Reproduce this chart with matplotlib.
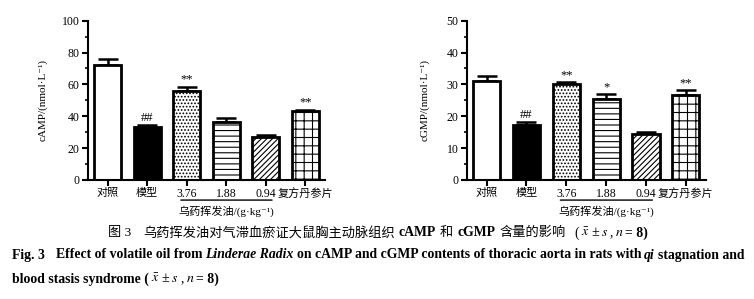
import matplotlib
matplotlib.use('Agg')
import matplotlib.pyplot as plt
from matplotlib.ticker import MultipleLocator

plt.rcParams['font.family'] = ['Liberation Serif', 'Noto Sans CJK SC', 'DejaVu Serif']
plt.rcParams['mathtext.fontset'] = 'stix'
plt.rcParams['hatch.linewidth'] = 0.8

# data
groups = ['对照', '模型', '3.76', '1.88', '0.94', '复方丹参片']
camp_mean = [72.0, 33.0, 56.0, 36.2, 26.8, 43.0]
camp_err = [4.2, 1.8, 2.6, 2.4, 1.2, 1.2]
camp_marks = ['', '##', '**', '', '', '**']
cgmp_mean = [31.0, 17.3, 30.0, 25.3, 14.5, 26.8]
cgmp_err = [1.7, 1.0, 0.8, 1.7, 0.7, 1.5]
cgmp_marks = ['', '##', '**', '*', '', '**']

colors = ['white', 'black', 'white', 'white', 'white', 'white']
hatches = [None, None, '.....', '---', '//////', '++']

fig = plt.figure(figsize=(7.54, 2.99), dpi=100)
W, H = 754, 299


def draw_panel(rect, means, errs, marks, ylabel, ymax, major, minor, label_x):
    ax = fig.add_axes(rect)
    x = range(len(groups))
    ax.bar(x, means, width=0.68, color=colors, edgecolor='black', linewidth=2,
           hatch=hatches, zorder=2)
    ax.errorbar(x, means, yerr=[[0] * len(errs), errs], fmt='none', ecolor='black',
                elinewidth=1.8, capsize=7, capthick=1.8, zorder=1)
    for i, m in enumerate(marks):
        if m:
            ax.text(i, means[i] + errs[i] + ymax * 0.005, m, ha='center', va='bottom',
                    fontsize=9)
    ax.set_xlim(-0.5, 5.5)
    ax.set_ylim(0, ymax)
    ax.yaxis.set_major_locator(MultipleLocator(major))
    ax.yaxis.set_minor_locator(MultipleLocator(minor))
    ax.spines['top'].set_visible(False)
    ax.spines['right'].set_visible(False)
    ax.spines['left'].set_linewidth(1.5)
    ax.spines['bottom'].set_linewidth(1.5)
    ax.tick_params(axis='both', which='major', width=1.5, length=4, labelsize=8.5, pad=2)
    ax.tick_params(axis='y', which='minor', width=1.2, length=2.5)
    ax.set_xticks(list(x))
    ax.set_xticklabels(groups)
    for lab in ax.get_xticklabels():
        if not lab.get_text()[0].isdigit():
            lab.set_fontsize(8)
    ax.set_ylabel(ylabel, fontsize=8)
    ax.yaxis.set_label_coords(label_x, 0.5)
    # underline below the dose labels
    ax.annotate('', xy=(4.23, -0.126), xytext=(1.78, -0.126),
                xycoords=ax.get_xaxis_transform(),
                arrowprops=dict(arrowstyle='-', color='black', lw=1))
    ax.text(3.0, -0.195, '乌药挥发油/(g·kg⁻¹)', ha='center', va='center',
            fontsize=8, transform=ax.get_xaxis_transform())
    return ax


draw_panel([0.1167, 0.398, 0.3143, 0.533], camp_mean, camp_err, camp_marks,
           'cAMP/(nmol·L⁻¹)', 100, 20, 10, -0.17)
draw_panel([0.619, 0.398, 0.317, 0.533], cgmp_mean, cgmp_err, cgmp_marks,
           'cGMP/(nmol·L⁻¹)', 50, 10, 5, -0.155)


def place_line(segments, x, y, centered=False):
    # segments: (text, props, gap after in pixels)
    renderer = fig.canvas.get_renderer()
    items = []
    total = 0
    for txt, props, gap in segments:
        t = fig.text(0, y / H, txt, va='center', ha='left', transform=fig.transFigure, **props)
        w = t.get_window_extent(renderer).width
        items.append((t, w, gap))
        total += w + gap
    total -= items[-1][2]
    cur = x - total / 2 if centered else x
    for t, w, gap in items:
        t.set_x(cur / W)
        cur += w + gap


reg = dict(fontsize=9.5)
bold = dict(fontsize=9.9, fontweight='bold')
ital = dict(fontsize=9.9, fontweight='bold', fontstyle='italic')
mreg = dict(fontsize=10)

y1, y2, y3 = 299 - 233, 299 - 255, 299 - 279
place_line([('图 3', reg, 12),
            ('乌药挥发油对气滞血瘀证大鼠胸主动脉组织', reg, 4),
            ('cAMP', bold, 4), ('和', reg, 4), ('cGMP', bold, 4),
            ('含量的影响', reg, 9), ('(', mreg, 2), ('$\\bar{x}$', mreg, 2),
            ('±', mreg, 2), ('$s$', mreg, 1), (',', mreg, 2), ('$n$', mreg, 2),
            ('= 8)', bold, 0)], 378, y1, centered=True)
place_line([('Fig. 3', bold, 11), ('Effect of volatile oil from', bold, 3),
            ('Linderae Radix', ital, 3),
            ('on cAMP and cGMP contents of thoracic aorta in rats with', bold, 3),
            ('qi', ital, 3), ('stagnation and', bold, 0)], 12, y2)
place_line([('blood stasis syndrome (', bold, 2), ('$\\bar{x}$', mreg, 2),
            ('±', mreg, 2), ('$s$', mreg, 2), (',', mreg, 2), ('$n$', mreg, 2),
            ('= 8)', bold, 0)], 12, y3)

fig.savefig('out.png', dpi=100)
